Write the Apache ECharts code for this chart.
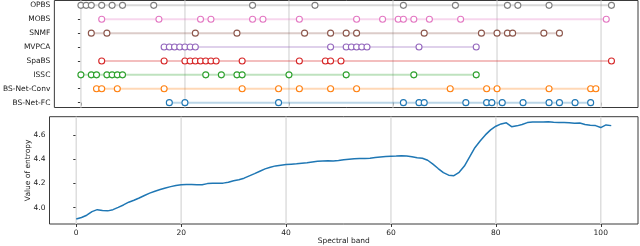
<!DOCTYPE html>
<html>
<head>
<meta charset="utf-8">
<script src="https://cdn.jsdelivr.net/npm/echarts@6/dist/echarts.min.js"></script>
<style>html,body{margin:0;padding:0;background:#fff;}#chart{width:640px;height:246px;}</style>
</head>
<body>
<div id="chart"></div>
<script>
// Methods listed top to bottom
const methods = ['OPBS', 'MOBS', 'SNMF', 'MVPCA', 'SpaBS', 'ISSC', 'BS-Net-Conv', 'BS-Net-FC'];
const opbs = [0, 1, 2, 4, 6, 8, 14, 33, 45, 62, 72, 82, 84, 90, 102];
const mobs = [4, 15, 23, 25, 33, 35, 42, 53, 58, 61, 62, 64, 67, 73, 101];
const snmf = [2, 5, 22, 30, 43, 48, 51, 53, 66, 77, 80, 82, 83, 89, 92];
const mvpca = [16, 17, 18, 19, 20, 21, 22, 48, 51, 52, 53, 54, 55, 65, 76];
const spabs = [4, 16, 20, 21, 22, 23, 24, 25, 26, 31, 42, 47, 48, 50, 102];
const issc = [0, 2, 3, 5, 6, 7, 8, 24, 27, 30, 31, 40, 51, 64, 76];
const bsNetConv = [3, 4, 7, 16, 31, 38, 42, 48, 53, 71, 78, 80, 90, 98, 99];
const bsNetFc = [17, 20, 38, 62, 65, 66, 74, 78, 79, 81, 85, 90, 92, 95, 98];
const methodBands = [opbs, mobs, snmf, mvpca, spabs, issc, bsNetConv, bsNetFc];
const methodColors = ['#7f7f7f', '#e377c2', '#8c564b', '#9467bd', '#d62728', '#2ca02c', '#ff7f0e', '#1f77b4'];

// Entropy per spectral band 0..102
const entropy = [
  3.905, 3.918, 3.937, 3.967, 3.983, 3.976, 3.973, 3.983, 4.002, 4.022,
  4.045, 4.061, 4.080, 4.100, 4.120, 4.136, 4.150, 4.163, 4.174, 4.184,
  4.189, 4.192, 4.192, 4.190, 4.190, 4.199, 4.202, 4.202, 4.203, 4.210,
  4.222, 4.231, 4.244, 4.263, 4.282, 4.302, 4.321, 4.335, 4.346, 4.352,
  4.357, 4.360, 4.363, 4.368, 4.373, 4.379, 4.384, 4.386, 4.388, 4.387,
  4.390, 4.396, 4.401, 4.406, 4.407, 4.407, 4.410, 4.415, 4.420, 4.423,
  4.426, 4.428, 4.431, 4.428, 4.421, 4.413, 4.409, 4.393, 4.360, 4.324,
  4.290, 4.269, 4.265, 4.293, 4.345, 4.420, 4.497, 4.553, 4.603, 4.645,
  4.675, 4.694, 4.703, 4.671, 4.678, 4.689, 4.705, 4.710, 4.711, 4.711,
  4.713, 4.708, 4.705, 4.705, 4.704, 4.700, 4.702, 4.690, 4.684, 4.680,
  4.664, 4.686, 4.680
];
const xTicks = [0, 20, 40, 60, 80, 100];
const yTicksEntropy = [4.0, 4.2, 4.4, 4.6];
const xLabel = 'Spectral band';
const yLabel = 'Value of entropy';

const X_MIN = -5.1, X_MAX = 107.1;
const T_MIN = -0.35, T_MAX = 7.35;
const E_MIN = 3.864, E_MAX = 4.754;
const FONT = 'DejaVu Sans';
const FS = 7.5;
const TXT = '#1a1a1a';
const nRows = methods.length;
const rowOf = i => nRows - 1 - i;

const series = [];
// vertical grid lines (from tick values)
xTicks.forEach(t => {
  series.push({type: 'line', xAxisIndex: 0, yAxisIndex: 0, data: [[t, T_MIN], [t, T_MAX]],
    symbol: 'none', silent: true, z: 0, lineStyle: {color: '#dedede', width: 1.5}});
  series.push({type: 'line', xAxisIndex: 1, yAxisIndex: 1, data: [[t, E_MIN], [t, E_MAX]],
    symbol: 'none', silent: true, z: 0, lineStyle: {color: '#dedede', width: 1.5}});
});
methods.forEach((m, i) => {
  const b = methodBands[i];
  const r = rowOf(i);
  series.push({type: 'line', name: m + ' span', xAxisIndex: 0, yAxisIndex: 0,
    data: [[Math.min(...b), r], [Math.max(...b), r]], symbol: 'none', silent: true, z: 1,
    lineStyle: {color: methodColors[i], opacity: 0.3, width: 2}});
  series.push({type: 'scatter', name: m, xAxisIndex: 0, yAxisIndex: 0,
    data: b.map(v => [v, r]), symbol: 'circle', symbolSize: 6, z: 3,
    itemStyle: {color: '#ffffff', borderColor: methodColors[i], borderWidth: 1.1, opacity: 1}});
});
series.push({type: 'line', name: 'entropy', xAxisIndex: 1, yAxisIndex: 1,
  data: entropy.map((v, i) => [i, v]), symbol: 'none', z: 3,
  lineStyle: {color: '#1f77b4', width: 1.5}});

const chart = echarts.init(document.getElementById('chart'), null, {renderer: 'canvas'});
chart.setOption({
  animation: false,
  grid: [
    {left: 49.5, right: 2, top: 0.5, height: 107, show: true, borderColor: '#3a3a3a', borderWidth: 1, backgroundColor: 'transparent'},
    {left: 49.5, right: 2, top: 116.7, height: 107.6, show: true, borderColor: '#3a3a3a', borderWidth: 1, backgroundColor: 'transparent'}
  ],
  xAxis: [
    {type: 'value', gridIndex: 0, min: X_MIN, max: X_MAX,
      axisLine: {show: false}, splitLine: {show: false},
      axisTick: {show: true, customValues: xTicks, length: 3, lineStyle: {color: '#3a3a3a'}},
      axisLabel: {show: false, customValues: xTicks}},
    {type: 'value', gridIndex: 1, min: X_MIN, max: X_MAX,
      axisLine: {show: false}, splitLine: {show: false},
      axisTick: {show: true, customValues: xTicks, length: 3, lineStyle: {color: '#3a3a3a'}},
      axisLabel: {show: true, customValues: xTicks, margin: 5, fontFamily: FONT, fontSize: FS, color: TXT},
      name: xLabel, nameLocation: 'middle', nameGap: 13, nameMoveOverlap: false,
      nameTextStyle: {fontFamily: FONT, fontSize: FS, color: TXT, verticalAlign: 'top'}}
  ],
  yAxis: [
    {type: 'value', gridIndex: 0, min: T_MIN, max: T_MAX,
      axisLine: {show: false}, splitLine: {show: false},
      axisTick: {show: true, customValues: [0, 1, 2, 3, 4, 5, 6, 7], length: 3, lineStyle: {color: '#3a3a3a'}},
      axisLabel: {show: true, customValues: [0, 1, 2, 3, 4, 5, 6, 7], margin: 4,
        fontFamily: FONT, fontSize: FS, color: TXT,
        formatter: v => methods[nRows - 1 - Math.round(v)]}},
    {type: 'value', gridIndex: 1, min: E_MIN, max: E_MAX,
      axisLine: {show: false}, splitLine: {show: false},
      axisTick: {show: true, customValues: yTicksEntropy, length: 3, lineStyle: {color: '#3a3a3a'}},
      axisLabel: {show: true, customValues: yTicksEntropy, margin: 4,
        fontFamily: FONT, fontSize: FS, color: TXT, formatter: v => v.toFixed(1)},
      name: yLabel, nameLocation: 'middle', nameGap: 17, nameMoveOverlap: false,
      nameTextStyle: {fontFamily: FONT, fontSize: FS, color: TXT}}
  ],
  series: series
});
</script>
</body>
</html>
